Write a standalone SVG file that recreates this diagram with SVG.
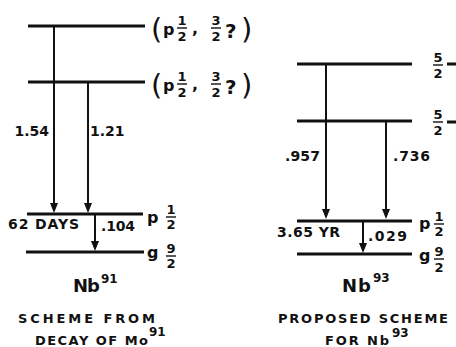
<svg xmlns="http://www.w3.org/2000/svg" width="456" height="347" viewBox="0 0 456 347">
<style>
text{font-family:"DejaVu Sans","Liberation Sans",Arial,sans-serif;font-weight:bold;fill:#111}
.lvl{stroke:#111;stroke-width:3;fill:none}
.tr{stroke:#111;stroke-width:2;fill:none}
.ah{fill:#111}
.bar{stroke:#111;stroke-width:1.4}
.lab{font-size:14px}
.pg{font-size:16px}
.fr{font-size:13px;text-anchor:middle}
.cap{font-size:13px}
.nb{font-size:18px}
.sup{font-size:12px}
.par{font-size:29px;font-weight:normal}
.q{font-size:20px}
</style>

<g id="levels-left">
<line class="lvl" x1="28" y1="26" x2="145" y2="26"/>
<line class="lvl" x1="28" y1="82" x2="145" y2="82"/>
<line class="lvl" x1="27" y1="214" x2="143" y2="214"/>
<line class="lvl" x1="26" y1="252" x2="144" y2="252"/>
</g>
<g id="levels-right">
<line class="lvl" x1="297" y1="64" x2="412" y2="64"/>
<line class="lvl" x1="297" y1="121" x2="412" y2="121"/>
<line class="lvl" x1="297" y1="221" x2="412" y2="221"/>
<line class="lvl" x1="297" y1="254" x2="412" y2="254"/>
<line class="lvl" x1="447" y1="64" x2="456" y2="64"/>
<line class="lvl" x1="447" y1="122" x2="456" y2="122"/>
</g>

<g id="connectors">
<path class="tr" d="M54,26 V205"/>
<path class="ah" d="M50,203 L58,203 L54,213 Z"/>
<path class="tr" d="M88,82 V205"/>
<path class="ah" d="M84,203 L92,203 L88,213 Z"/>
<path class="tr" d="M95,214 V243"/>
<path class="ah" d="M91,241 L99,241 L95,251 Z"/>
<path class="tr" d="M326,64 V211"/>
<path class="ah" d="M322,209 L330,209 L326,219 Z"/>
<path class="tr" d="M386,121 V211"/>
<path class="ah" d="M382,209 L390,209 L386,219 Z"/>
<path class="tr" d="M363,221 V245"/>
<path class="ah" d="M359,243 L367,243 L363,253 Z"/>
</g>

<g id="labels-left">
<text class="lab" x="49" y="136" text-anchor="end">1.54</text>
<text class="lab" x="90" y="136">1.21</text>
<text class="lab" x="8" y="229" textLength="71" lengthAdjust="spacing">62 DAYS</text>
<text class="lab" x="101" y="231" textLength="34" lengthAdjust="spacing">.104</text>
</g>

<g id="spin-left-top">
<text class="par" x="151" y="39">(</text>
<text class="pg" x="163" y="35">p</text>
<text class="fr" x="182" y="25">1</text>
<line class="bar" x1="177" y1="28" x2="187" y2="28"/>
<text class="fr" x="182" y="41">2</text>
<text class="pg" x="192" y="34">,</text>
<text class="fr" x="216" y="25">3</text>
<line class="bar" x1="211" y1="28" x2="221" y2="28"/>
<text class="fr" x="216" y="41">2</text>
<text class="q" x="225" y="38">?</text>
<text class="par" x="241" y="39">)</text>
</g>
<g id="spin-left-2">
<text class="par" x="151" y="95">(</text>
<text class="pg" x="163" y="91">p</text>
<text class="fr" x="182" y="81">1</text>
<line class="bar" x1="177" y1="84" x2="187" y2="84"/>
<text class="fr" x="182" y="97">2</text>
<text class="pg" x="192" y="90">,</text>
<text class="fr" x="216" y="81">3</text>
<line class="bar" x1="211" y1="84" x2="221" y2="84"/>
<text class="fr" x="216" y="97">2</text>
<text class="q" x="225" y="94">?</text>
<text class="par" x="241" y="95">)</text>
</g>
<g id="spin-left-p">
<text class="pg" x="147" y="223">p</text>
<text class="fr" x="171" y="214">1</text>
<line class="bar" x1="166" y1="217" x2="176" y2="217"/>
<text class="fr" x="171" y="229">2</text>
</g>
<g id="spin-left-g">
<text class="pg" x="147" y="258">g</text>
<text class="fr" x="171" y="253">9</text>
<line class="bar" x1="166" y1="256" x2="176" y2="256"/>
<text class="fr" x="171" y="268">2</text>
</g>

<g id="labels-right">
<text class="lab" x="285" y="161" textLength="35" lengthAdjust="spacing">.957</text>
<text class="lab" x="393" y="161" textLength="37" lengthAdjust="spacing">.736</text>
<text class="lab" x="277" y="237" textLength="63" lengthAdjust="spacing">3.65 YR</text>
<text class="lab" x="368" y="241" textLength="39" lengthAdjust="spacing">.029</text>
</g>
<g id="spin-right-1">
<text class="fr" x="438" y="62">5</text>
<line class="bar" x1="433" y1="65" x2="443" y2="65"/>
<text class="fr" x="438" y="78">2</text>
</g>
<g id="spin-right-2">
<text class="fr" x="438" y="119">5</text>
<line class="bar" x1="433" y1="122" x2="443" y2="122"/>
<text class="fr" x="438" y="135">2</text>
</g>
<g id="spin-right-p">
<text class="pg" x="419" y="229">p</text>
<text class="fr" x="439" y="221">1</text>
<line class="bar" x1="434" y1="224" x2="444" y2="224"/>
<text class="fr" x="439" y="236">2</text>
</g>
<g id="spin-right-g">
<text class="pg" x="419" y="261">g</text>
<text class="fr" x="439" y="256">9</text>
<line class="bar" x1="434" y1="259" x2="444" y2="259"/>
<text class="fr" x="439" y="272">2</text>
</g>

<g id="caption-left">
<text class="nb" x="73" y="292" textLength="27" lengthAdjust="spacing">Nb</text>
<text class="sup" x="101" y="283">91</text>
<text class="cap" x="18" y="323" textLength="137" lengthAdjust="spacing">SCHEME FROM</text>
<text class="cap" x="35" y="345" textLength="113" lengthAdjust="spacing">DECAY OF Mo</text>
<text class="sup" x="149" y="336">91</text>
</g>
<g id="caption-right">
<text class="nb" x="342" y="292" textLength="29" lengthAdjust="spacing">Nb</text>
<text class="sup" x="373" y="282">93</text>
<text class="cap" x="278" y="323" textLength="170" lengthAdjust="spacing">PROPOSED SCHEME</text>
<text class="cap" x="325" y="345" textLength="64" lengthAdjust="spacing">FOR Nb</text>
<text class="sup" x="392" y="337">93</text>
</g>
</svg>
